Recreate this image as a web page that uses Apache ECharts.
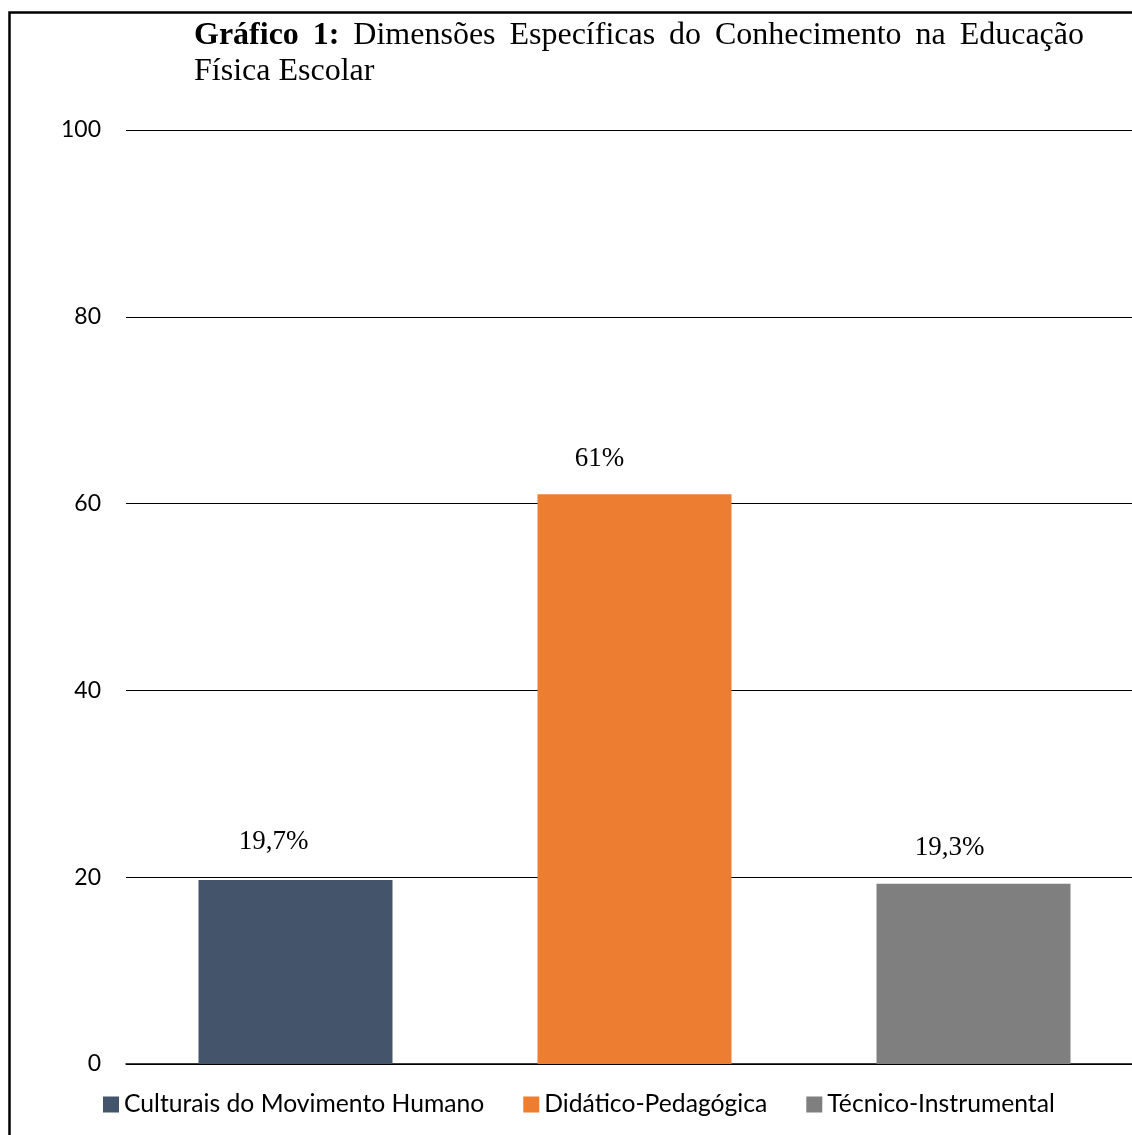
<!DOCTYPE html>
<html>
<head>
<meta charset="utf-8">
<script src="https://cdn.jsdelivr.net/npm/echarts@6/dist/echarts.min.js"></script>
<style>
html,body{margin:0;padding:0;background:#fff;overflow:hidden;width:1132px;height:1135px;}
#chart{width:1144px;height:1135px;}
</style>
</head>
<body>
<div id="chart"></div>
<script>
// ---- data ----
const categories = ['Culturais do Movimento Humano', 'Didático-Pedagógica', 'Técnico-Instrumental'];
const values = [19.7, 61, 19.3];
const valueLabels = ['19,7%', '61%', '19,3%'];
const yTicks = [0, 20, 40, 60, 80, 100];
const titleBold = ['Gráfico', '1:'];
const titleLine1 = ['Dimensões', 'Específicas', 'do', 'Conhecimento', 'na', 'Educação'];
const titleLine2 = 'Física Escolar';

// ---- styles ----
const palette = ['#44546A', '#ED7D31', '#7F7F7F'];
const labelOffsets = [[-22, -20], [-35, -17], [-24, -17]];
const serif = '"Liberation Serif", "Times New Roman", serif';
const sans = 'Lato, "Noto Sans", sans-serif';

const chart = echarts.init(document.getElementById('chart'));

// justified title line 1
const titleSize = 32;
const lineLeft = 194, lineRight = 1084;
const ctx = document.createElement('canvas').getContext('2d');
const words = titleBold.map(w => ({w, bold: true})).concat(titleLine1.map(w => ({w, bold: false})));
let total = 0;
words.forEach(o => {
  ctx.font = (o.bold ? 'bold ' : '') + titleSize + 'px ' + serif;
  o.width = ctx.measureText(o.w).width;
  total += o.width;
});
const gap = (lineRight - lineLeft - total) / (words.length - 1);
const graphics = [];
let cx = lineLeft;
words.forEach(o => {
  graphics.push({
    type: 'text', left: cx, top: 20,
    style: {text: o.w, fontFamily: serif, fontSize: titleSize, fontWeight: o.bold ? 'bold' : 'normal', fill: '#000'}
  });
  cx += o.width + gap;
});
graphics.push({
  type: 'text', left: lineLeft, top: 56,
  style: {text: titleLine2, fontFamily: serif, fontSize: titleSize, fill: '#000'}
});
graphics.push({
  type: 'rect', left: 7, top: 10, z: 10,
  shape: {x: 0, y: 0, width: 1300, height: 1300},
  style: {fill: 'none', stroke: '#000', lineWidth: 2.5}
});

const series = categories.map((name, i) => ({
  name: name,
  type: 'bar',
  stack: 'all',
  barWidth: 194,
  data: categories.map((c, j) => (j === i ? values[i] : '-')),
  itemStyle: {color: palette[i]},
  label: {
    show: true, position: 'top',
    formatter: () => valueLabels[i],
    fontFamily: serif, fontSize: 27, color: '#000',
    offset: labelOffsets[i]
  }
}));

chart.setOption({
  animation: false,
  color: palette,
  graphic: graphics,
  legend: {
    data: categories,
    left: 98, top: 1087,
    icon: 'rect', itemWidth: 16, itemHeight: 16, itemGap: 39, itemStyle: {borderWidth: 0},
    textStyle: {fontFamily: sans, fontSize: 24.7, color: '#000'}
  },
  grid: {left: 126, top: 130, width: 1017, height: 934, containLabel: false},
  xAxis: {
    type: 'category', data: categories,
    axisLine: {lineStyle: {color: '#000', width: 1.5}},
    axisTick: {show: false}, axisLabel: {show: false}
  },
  yAxis: {
    type: 'value', min: yTicks[0], max: yTicks[yTicks.length - 1], interval: 20,
    axisLine: {show: false}, axisTick: {show: false},
    axisLabel: {fontFamily: sans, fontSize: 23, color: '#000', margin: 25},
    splitLine: {lineStyle: {color: '#000', width: 1.2}}
  },
  series: series
});
</script>
</body>
</html>
